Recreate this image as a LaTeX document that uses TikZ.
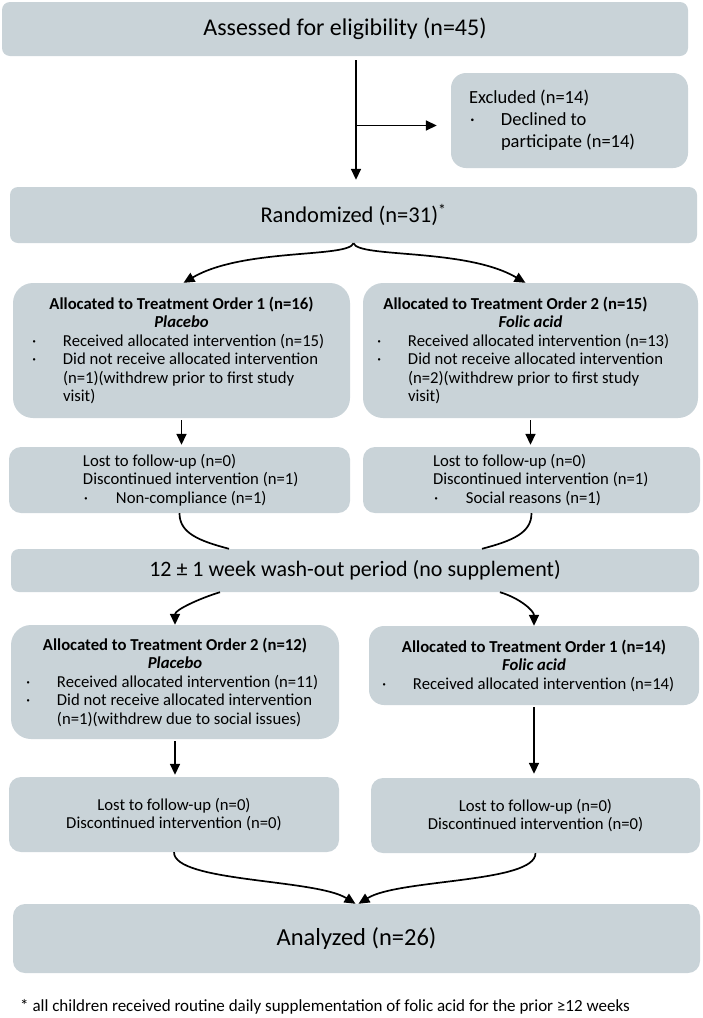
\documentclass[tikz,border=0pt]{standalone}
\usepackage{fontspec}
\setmainfont{Carlito}
\usetikzlibrary{arrows.meta, positioning, calc}
\definecolor{boxfill}{RGB}{201,211,216}
% text block of a box: width, content
\newcommand{\boxtext}[2]{\parbox{#1}{\raggedright #2}}
% bullet line: hanging indent, dot offset, text
\newcommand{\dotitem}[3]{\par\hangindent=#1\hangafter=1\noindent\makebox[#1][l]{\hspace*{#2}\textperiodcentered}#3}

\begin{document}
\begin{tikzpicture}[
    x=1pt, y=-1pt,
    >={Triangle[length=11pt,width=10pt]},
    % --- styles ---
    % wide stage boxes
    stage/.style={fill=boxfill, rounded corners=8pt, inner sep=0pt, align=center},
    % arm boxes
    armbox/.style={fill=boxfill, rounded corners=20pt, inner sep=0pt, font=\fontsize{16.7}{18.5}\selectfont},
    % follow-up boxes
    fupbox/.style={armbox, rounded corners=12pt},
    % arrows
    arrow/.style={->, line width=1.7pt},
    link/.style={line width=1.7pt}
]
\useasboundingbox (0,0) rectangle (703,1018);

% --- 1. Enrolment ---
\node[stage, minimum width=686pt, minimum height=54pt, font=\fontsize{24}{28}\selectfont] (Assess) at (345,29)
    {Assessed for eligibility (n=45)};

\node[armbox, rounded corners=15pt, minimum width=237pt, minimum height=95pt,
      font=\fontsize{18.5}{22}\selectfont] (Excl) at (569.5,120.5)
    {\boxtext{201pt}{Excluded (n=14)\dotitem{32pt}{1pt}{Declined to\newline participate (n=14)}}};

\node[stage, minimum width=687pt, minimum height=56pt, font=\fontsize{22.5}{26}\selectfont] (Rand) at (353.5,215)
    {Randomized (n=31)\textsuperscript{*}};

% --- 2. Period 1 ---
\node[armbox, minimum width=337pt, minimum height=135pt] (AllocA) at (181.5,350.5) {\boxtext{337pt}{%
    {\centering\textbf{Allocated to Treatment Order 1 (n=16)}\\\textbf{\textit{Placebo}}\par}%
    \dotitem{50pt}{19pt}{Received allocated intervention (n=15)}%
    \dotitem{50pt}{19pt}{Did not receive allocated intervention\newline (n=1)(withdrew prior to first study\newline visit)}}};

\node[armbox, minimum width=335pt, minimum height=135pt] (AllocB) at (530.5,350.5) {\boxtext{335pt}{%
    {\centering\hspace*{-30pt}\textbf{Allocated to Treatment Order 2 (n=15)}\\\textbf{\textit{Folic acid}}\par}%
    \dotitem{45pt}{14pt}{Received allocated intervention (n=13)}%
    \dotitem{45pt}{14pt}{Did not receive allocated intervention\newline (n=2)(withdrew prior to first study\newline visit)}}};

\node[fupbox, minimum width=341pt, minimum height=66pt] (FupA) at (179.5,480) {\boxtext{341pt}{%
    \leftskip=74pt Lost to follow-up (n=0)\newline Discontinued intervention (n=1)%
    \dotitem{33pt}{1pt}{Non-compliance (n=1)}}};

\node[fupbox, minimum width=337pt, minimum height=66pt] (FupB) at (531.5,480) {\boxtext{337pt}{%
    \leftskip=70pt Lost to follow-up (n=0)\newline Discontinued intervention (n=1)%
    \dotitem{33pt}{1pt}{Social reasons (n=1)}}};

% --- 3. Wash-out ---
\node[stage, minimum width=688pt, minimum height=43pt, font=\fontsize{22}{26}\selectfont] (Wash) at (355,570.5)
    {12 ± 1 week wash-out period (no supplement)};

% --- 4. Period 2 ---
\node[armbox, minimum width=328pt, minimum height=114pt] (CrossA) at (175,682) {\boxtext{328pt}{%
    {\centering\textbf{Allocated to Treatment Order 2 (n=12)}\\\textbf{\textit{Placebo}}\par}%
    \dotitem{46pt}{15pt}{Received allocated intervention (n=11)}%
    \dotitem{46pt}{15pt}{Did not receive allocated intervention\newline (n=1)(withdrew due to social issues)}}};

\node[armbox, rounded corners=15pt, minimum width=330pt, minimum height=79pt] (CrossB) at (534,665.5) {\boxtext{330pt}{%
    {\centering\textbf{Allocated to Treatment Order 1 (n=14)}\\\textbf{\textit{Folic acid}}\par}%
    \dotitem{44pt}{13pt}{Received allocated intervention (n=14)}}};

\node[fupbox, align=center, minimum width=330pt, minimum height=75pt] (EndA) at (174,814.5)
    {Lost to follow-up (n=0)\\Discontinued intervention (n=0)};

\node[fupbox, align=center, minimum width=329pt, minimum height=75pt] (EndB) at (535.5,815.5)
    {Lost to follow-up (n=0)\\Discontinued intervention (n=0)};

% --- 5. Analysis ---
\node[stage, rounded corners=12pt, minimum width=687pt, minimum height=69pt, font=\fontsize{24.5}{28}\selectfont] (Ana) at (356.5,938.5)
    {Analyzed (n=26)};

\node[anchor=west, inner sep=0pt, font=\fontsize{17}{20}\selectfont] (Note) at (20,1007)
    {* all children received routine daily supplementation of folic acid for the prior ≥12 weeks};

% --- 6. Arrows ---
\coordinate (top) at ($(Assess.south)+(11,0)$);
\draw[arrow, shorten <=4pt, shorten >=7pt] (top) -- (top |- Rand.north);
\coordinate (split) at ($(top |- Excl.west)+(0,5)$);
\draw[arrow, shorten >=14pt] (split) -- (split -| Excl.west);

\draw[arrow] (Rand.south) .. controls +(-5,15) and +(60,-35) .. ([xshift=2pt]AllocA.north);
\draw[arrow] (Rand.south) .. controls +(5,15) and +(-60,-35) .. ([xshift=-5pt]AllocB.north);

\draw[arrow, shorten <=2pt, shorten >=2pt] (AllocA.south) -- (AllocA.south |- FupA.north);
\draw[arrow, shorten <=2pt, shorten >=2pt] (AllocB.south) -- (AllocB.south |- FupB.north);

\draw[link] (FupA.south) .. controls +(0,20) and +(-30,-8) .. ([xshift=-126pt]Wash.north);
\draw[link] (FupB.south) .. controls +(0,20) and +(30,-8) .. ([xshift=127pt]Wash.north);

\draw[arrow] ([xshift=-135pt]Wash.south) .. controls +(-20,6) and +(0,-15) .. (CrossA.north);
\draw[arrow] ([xshift=145pt]Wash.south) .. controls +(20,6) and +(0,-15) .. (CrossB.north);

\draw[arrow, shorten <=2pt, shorten >=2pt] (CrossA.south) -- (CrossA.south |- EndA.north);
\draw[arrow, shorten <=2pt, shorten >=4pt] (CrossB.south) -- (CrossB.south |- EndB.north);

\draw[arrow] (EndA.south) .. controls +(0,30) and +(-40,-25) .. ([xshift=-1pt]Ana.north);
\draw[arrow] (EndB.south) .. controls +(0,30) and +(40,-25) .. ([xshift=2pt]Ana.north);

\end{tikzpicture}
\end{document}
